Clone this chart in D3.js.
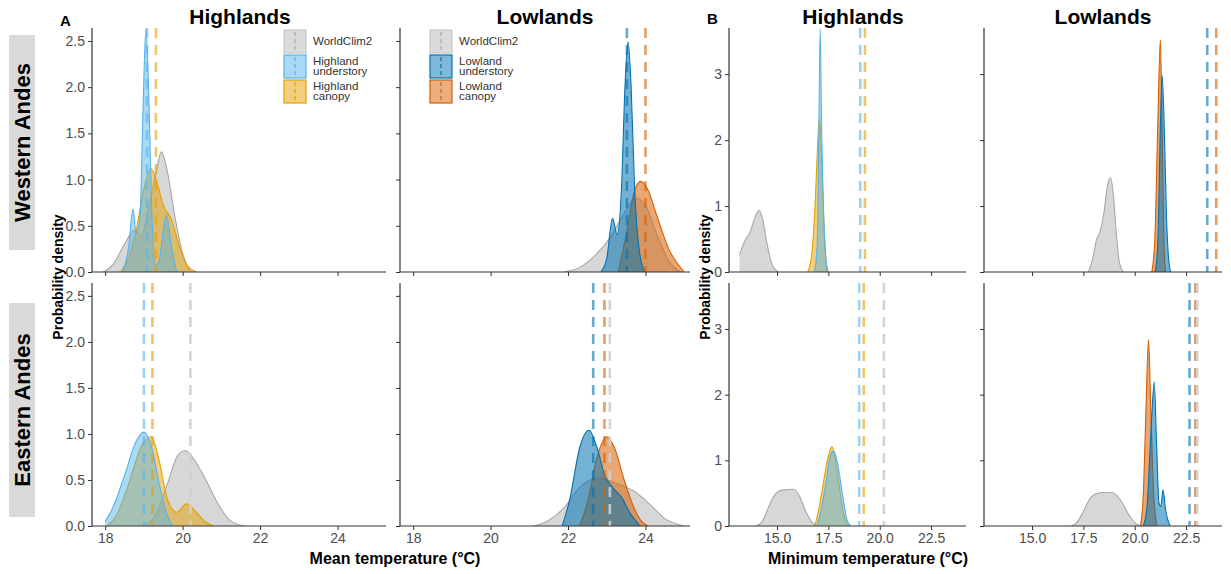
<!DOCTYPE html>
<html><head><meta charset="utf-8">
<script src="https://cdn.jsdelivr.net/npm/d3@7"></script>
<style>body{margin:0;background:#fff}svg{font-family:"Liberation Sans",Arial,sans-serif}</style>
</head><body><svg id="c" width="1231" height="574"></svg>
<script>
// ---- data (°C, density) ----
const ticksMean = [18,20,22,24];
const ticksMin = [15,17.5,20,22.5];
const yTicksA = [0,0.5,1,1.5,2,2.5];
const yTicksB = [0,1,2,3];
const colGrey="#bdbdbd", colHU="#56B4E9", colHC="#E69F00", colLU="#0072B2", colLC="#D55E00";

// A: mean temperature
const A_W_hi_grey=[[17.95,0],[18.2,0.08],[18.5,0.3],[18.75,0.45],[18.95,0.4],[19.1,0.65],[19.3,1.05],[19.45,1.3],[19.6,1.1],[19.8,0.6],[20.0,0.2],[20.2,0]];
const A_W_hi_can=[[18.4,0],[18.6,0.15],[18.8,0.45],[19.0,0.9],[19.18,1.12],[19.35,0.95],[19.5,0.72],[19.7,0.58],[19.9,0.3],[20.1,0.08],[20.35,0]];
const A_W_hi_und=[[18.45,0],[18.6,0.25],[18.72,0.68],[18.8,0.42],[18.9,0.6],[18.98,1.8],[19.05,2.63],[19.12,2.0],[19.2,0.7],[19.3,0.08],[19.38,0.1],[19.5,0.45],[19.58,0.62],[19.7,0.3],[19.85,0]];
const A_W_lo_grey=[[21.9,0],[22.3,0.05],[22.7,0.18],[23.1,0.38],[23.4,0.6],[23.75,0.8],[24.0,0.72],[24.3,0.4],[24.6,0.12],[24.9,0]];
const A_W_lo_can=[[23.3,0],[23.5,0.4],[23.7,0.85],[23.87,0.98],[24.05,0.9],[24.3,0.6],[24.6,0.25],[25.0,0]];
const A_W_lo_und=[[22.85,0],[23.0,0.15],[23.15,0.58],[23.27,0.4],[23.38,0.9],[23.47,2.0],[23.55,2.49],[23.63,2.0],[23.72,0.9],[23.85,0.2],[23.98,0]];
const A_E_hi_grey=[[18.95,0],[19.3,0.12],[19.6,0.45],[19.85,0.75],[20.06,0.82],[20.3,0.72],[20.6,0.5],[20.9,0.25],[21.2,0.07],[21.6,0]];
const A_E_hi_can=[[18.05,0],[18.3,0.12],[18.6,0.45],[18.95,0.88],[19.19,0.97],[19.4,0.7],[19.6,0.3],[19.85,0.15],[20.1,0.24],[20.35,0.15],[20.6,0.04],[20.8,0]];
const A_E_hi_und=[[18.0,0.05],[18.2,0.2],[18.5,0.55],[18.8,0.92],[19.0,1.02],[19.2,0.85],[19.4,0.45],[19.6,0.12],[19.75,0]];
const A_E_lo_grey=[[21.1,0],[21.5,0.06],[21.9,0.2],[22.3,0.42],[22.8,0.52],[23.2,0.47],[23.7,0.38],[24.1,0.24],[24.5,0.08],[25.0,0]];
const A_E_lo_can=[[22.3,0],[22.5,0.25],[22.75,0.75],[23.0,0.97],[23.2,0.85],[23.45,0.5],[23.7,0.2],[23.9,0.05],[24.07,0]];
const A_E_lo_und=[[21.85,0],[22.05,0.3],[22.3,0.85],[22.54,1.04],[22.75,0.85],[22.95,0.55],[23.15,0.42],[23.4,0.3],[23.6,0.14],[23.86,0]];
// B: minimum temperature
const B_W_hi_grey=[[13.17,0.26],[13.4,0.45],[13.7,0.62],[13.95,0.85],[14.13,0.93],[14.3,0.8],[14.5,0.45],[14.75,0.12],[15.05,0]];
const B_W_hi_can=[[16.5,0],[16.7,0.3],[16.85,1.0],[16.97,1.9],[17.06,2.33],[17.15,1.9],[17.27,0.8],[17.42,0]];
const B_W_hi_und=[[16.82,0],[16.95,0.4],[17.03,2.0],[17.1,3.69],[17.17,2.2],[17.28,0.8],[17.38,0.2],[17.5,0]];
const B_W_lo_grey=[[17.75,0],[17.95,0.2],[18.15,0.5],[18.3,0.6],[18.5,0.9],[18.7,1.35],[18.83,1.43],[18.95,1.2],[19.1,0.6],[19.25,0.15],[19.45,0]];
const B_W_lo_can=[[20.83,0],[20.98,0.5],[21.12,2.2],[21.25,3.52],[21.33,2.2],[21.42,0.5],[21.5,0]];
const B_W_lo_und=[[21.0,0],[21.13,0.5],[21.25,2.2],[21.33,2.98],[21.42,2.4],[21.55,0.8],[21.65,0.2],[21.75,0]];
const B_E_hi_grey=[[14.0,0],[14.3,0.08],[14.6,0.3],[14.9,0.48],[15.3,0.55],[15.8,0.56],[16.1,0.45],[16.4,0.22],[16.7,0.06],[16.95,0]];
const B_E_hi_can=[[16.83,0],[17.0,0.2],[17.2,0.55],[17.45,1.0],[17.67,1.21],[17.85,1.0],[18.1,0.45],[18.3,0.12],[18.5,0]];
const B_E_hi_und=[[16.95,0],[17.15,0.25],[17.4,0.7],[17.6,1.08],[17.75,1.14],[17.95,0.95],[18.2,0.45],[18.4,0.1],[18.58,0]];
const B_E_lo_grey=[[16.9,0],[17.2,0.06],[17.5,0.22],[17.9,0.45],[18.4,0.51],[18.9,0.51],[19.3,0.4],[19.7,0.18],[20.0,0.05],[20.25,0]];
const B_E_lo_can=[[20.28,0],[20.42,0.5],[20.55,1.8],[20.67,2.84],[20.78,1.8],[20.92,0.5],[21.08,0]];
const B_E_lo_und=[[20.42,0],[20.6,0.3],[20.8,1.5],[20.95,2.19],[21.07,1.2],[21.18,0.35],[21.27,0.3],[21.38,0.55],[21.5,0.25],[21.72,0]];
// means (dashed lines): [value, series]
const A_W_hi_means=[[19.08,"und"],[19.31,"can"]];
const A_W_lo_means=[[23.52,"und"],[24.0,"can"]];
const A_E_hi_means=[[19.0,"und"],[19.22,"can"],[20.2,"grey"]];
const A_E_lo_means=[[22.65,"und"],[22.94,"can"],[23.08,"grey"]];
const B_W_hi_means=[[19.05,"und"],[19.28,"can"]];
const B_W_lo_means=[[23.53,"und"],[23.97,"can"]];
const B_E_hi_means=[[19.0,"und"],[19.22,"can"],[20.2,"grey"]];
const B_E_lo_means=[[22.67,"und"],[22.95,"can"],[23.05,"grey"]];

const svg=d3.select("#c");
const rows=[[28,272],[283,526]];
const panels=[
 {x0:92,W:294,dom:[17.66,25.25],yd:[0,2.64],row:0,hi:true,curves:[A_W_hi_grey,A_W_hi_can,A_W_hi_und],means:A_W_hi_means,yt:yTicksA,xt:ticksMean,ylab:true,fmt:d3.format(".1f"),xf:d3.format("d"),leg:true},
 {x0:400,W:290,dom:[17.66,25.15],yd:[0,2.64],row:0,hi:false,curves:[A_W_lo_grey,A_W_lo_can,A_W_lo_und],means:A_W_lo_means,yt:yTicksA,xt:ticksMean,ylab:false,leg:true},
 {x0:92,W:294,dom:[17.66,25.25],yd:[0,2.64],row:1,hi:true,curves:[A_E_hi_grey,A_E_hi_can,A_E_hi_und],means:A_E_hi_means,yt:yTicksA,xt:ticksMean,ylab:true,fmt:d3.format(".1f"),xf:d3.format("d")},
 {x0:400,W:290,dom:[17.66,25.15],yd:[0,2.64],row:1,hi:false,curves:[A_E_lo_grey,A_E_lo_can,A_E_lo_und],means:A_E_lo_means,yt:yTicksA,xt:ticksMean,ylab:false,xf:d3.format("d")},
 {x0:729,W:237,dom:[12.66,24.2],yd:[0,3.7],row:0,hi:true,curves:[B_W_hi_grey,B_W_hi_can,B_W_hi_und],means:B_W_hi_means,yt:yTicksB,xt:ticksMin,ylab:true,fmt:d3.format("d"),xf:d3.format(".1f")},
 {x0:984,W:238,dom:[12.66,24.25],yd:[0,3.7],row:0,hi:false,curves:[B_W_lo_grey,B_W_lo_can,B_W_lo_und],means:B_W_lo_means,yt:yTicksB,xt:ticksMin,ylab:false},
 {x0:729,W:237,dom:[12.66,24.2],yd:[0,3.7],row:1,hi:true,curves:[B_E_hi_grey,B_E_hi_can,B_E_hi_und],means:B_E_hi_means,yt:yTicksB,xt:ticksMin,ylab:true,fmt:d3.format("d"),xf:d3.format(".1f")},
 {x0:984,W:238,dom:[12.66,24.25],yd:[0,3.7],row:1,hi:false,curves:[B_E_lo_grey,B_E_lo_can,B_E_lo_und],means:B_E_lo_means,yt:yTicksB,xt:ticksMin,ylab:false,xf:d3.format(".1f")}
];
panels.forEach(p=>{
  const [top,bot]=rows[p.row];
  const x=d3.scaleLinear().domain(p.dom).range([p.x0,p.x0+p.W]);
  const y=d3.scaleLinear().domain(p.yd).range([bot,top]);
  const cols={grey:colGrey,can:p.hi?colHC:colLC,und:p.hi?colHU:colLU};
  const g=svg.append("g");
  const clip="clip"+p.x0+"_"+p.row;
  svg.append("clipPath").attr("id",clip).append("rect").attr("x",p.x0).attr("y",top).attr("width",p.W).attr("height",bot-top);
  const area=d3.area().x(d=>x(d[0])).y0(y(0)).y1(d=>y(d[1])).curve(d3.curveMonotoneX);
  const line=d3.line().x(d=>x(d[0])).y(d=>y(d[1])).curve(d3.curveMonotoneX);
  const keys=["grey","can","und"];
  const cg=g.append("g").attr("clip-path",`url(#${clip})`);
  p.curves.forEach((c,i)=>{
    const col=cols[keys[i]];
    const op=i==0?0.6:(p.hi?0.5:0.55);
    cg.append("path").attr("d",area(c)).attr("fill",col).attr("fill-opacity",op);
    cg.append("path").attr("d",line(c)).attr("fill","none").attr("stroke",i==0?"#a8a8a8":col).attr("stroke-width",1.1);
  });
  p.means.forEach(m=>{
    cg.append("line").attr("x1",x(m[0])).attr("x2",x(m[0])).attr("y1",top).attr("y2",bot)
      .attr("stroke",m[1]=="grey"?"#cfcfcf":cols[m[1]]).attr("stroke-opacity",m[1]=="grey"?0.9:0.6)
      .attr("stroke-width",2.6).attr("stroke-dasharray","10,7");
  });
  const ax=g.append("g").attr("transform",`translate(0,${bot})`).call(d3.axisBottom(x).tickValues(p.xt).tickSize(4).tickFormat(p.xf&&p.row==1?p.xf:""));
  const ay=g.append("g").attr("transform",`translate(${p.x0},0)`).call(d3.axisLeft(y).tickValues(p.yt).tickSize(4).tickFormat(p.ylab?p.fmt:""));
  [ax,ay].forEach(a=>{a.select(".domain").attr("stroke","#333").attr("stroke-width",1.2);
    a.selectAll(".tick line").attr("stroke","#333");
    a.selectAll("text").attr("fill","#4d4d4d").attr("font-size",14);});
  ax.select(".domain").attr("d",`M${p.x0},0H${p.x0+p.W}`);
  ay.select(".domain").attr("d",`M0,${top}V${bot}`);
  if(p.leg){
    const lx=p.hi?284:430;
    const items=p.hi?[["grey",["WorldClim2"]],["und",["Highland","understory"]],["can",["Highland","canopy"]]]
                    :[["grey",["WorldClim2"]],["und",["Lowland","understory"]],["can",["Lowland","canopy"]]];
    const ys=[30,55,80];
    items.forEach((it,i)=>{
      const c=cols[it[0]];
      g.append("rect").attr("x",lx).attr("y",ys[i]).attr("width",22).attr("height",23)
        .attr("fill",c).attr("fill-opacity",i==0?0.55:0.5).attr("stroke",i==0?"#c8c8c8":c).attr("stroke-width",1.2);
      g.append("line").attr("x1",lx+11).attr("x2",lx+11).attr("y1",ys[i]+2).attr("y2",ys[i]+21)
        .attr("stroke",i==0?"#aaa":c).attr("stroke-width",1.5).attr("stroke-dasharray","4,3").attr("opacity",0.8);
      it[1].forEach((t,j)=>g.append("text").attr("x",lx+29).attr("y",it[1].length==1?ys[i]+15:ys[i]+10+j*10)
        .attr("font-size",11.5).attr("fill","#333").text(t));
    });
  }
});
// titles
[[240,"Highlands"],[545,"Lowlands"],[853,"Highlands"],[1103,"Lowlands"]].forEach(t=>
  svg.append("text").attr("x",t[0]).attr("y",24).attr("text-anchor","middle").attr("font-size",21).attr("font-weight","bold").text(t[1]));
svg.append("text").attr("x",60).attr("y",26).attr("font-size",15).attr("font-weight","bold").text("A");
svg.append("text").attr("x",707).attr("y",24).attr("font-size",15).attr("font-weight","bold").text("B");
// strips
[[35,250,"Western Andes"],[303,517,"Eastern Andes"]].forEach(s=>{
  svg.append("rect").attr("x",9).attr("y",s[0]).attr("width",26).attr("height",s[1]-s[0]).attr("fill","#d9d9d9");
  svg.append("text").attr("transform",`translate(30,${(s[0]+s[1])/2}) rotate(-90)`).attr("text-anchor","middle")
    .attr("font-size",22).attr("font-weight","bold").text(s[2]);
});
// axis titles
[[63,"Probability density"],[710,"Probability density"]].forEach(a=>
  svg.append("text").attr("transform",`translate(${a[0]},277) rotate(-90)`).attr("text-anchor","middle").attr("font-size",14).attr("font-weight","bold").text(a[1]));
svg.append("text").attr("x",395).attr("y",564).attr("text-anchor","middle").attr("font-size",16).attr("font-weight","bold").text("Mean temperature (°C)");
svg.append("text").attr("x",868).attr("y",564).attr("text-anchor","middle").attr("font-size",16).attr("font-weight","bold").text("Minimum temperature (°C)");
</script></body></html>
